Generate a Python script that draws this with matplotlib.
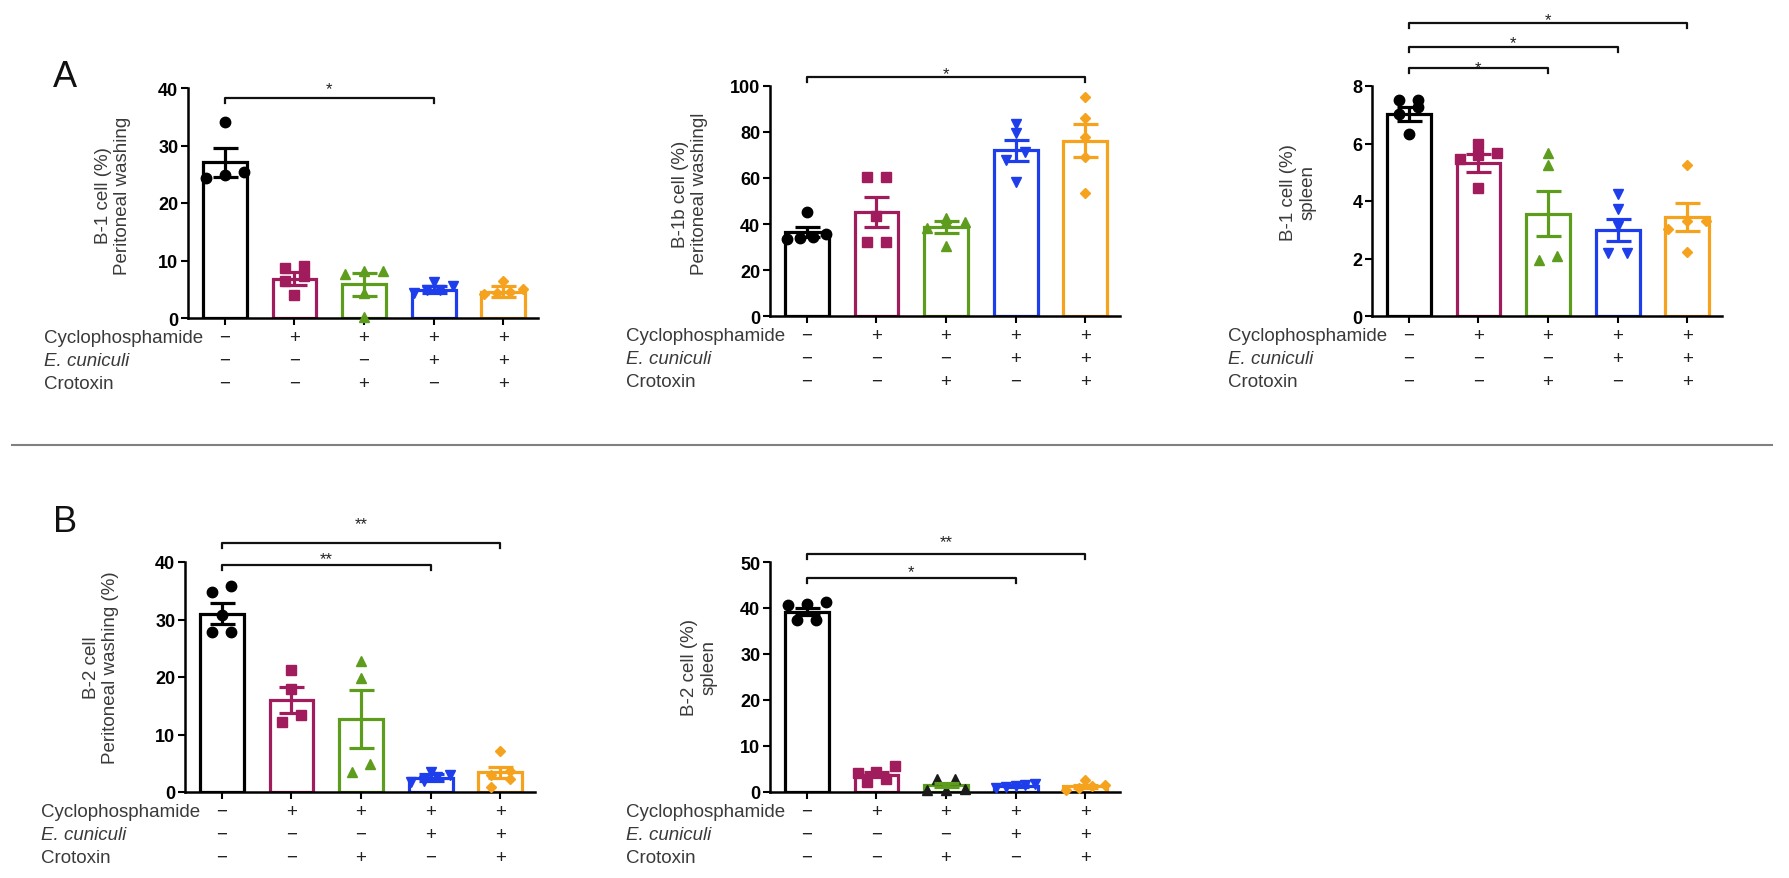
import matplotlib
matplotlib.use('Agg')
import matplotlib.pyplot as plt
import matplotlib.transforms as mtransforms
from matplotlib.lines import Line2D
import numpy as np

plt.rcParams['font.family'] = ['Liberation Sans', 'DejaVu Sans']

# ---------------- data ----------------
cyclo_row = ['\u2212', '+', '+', '+', '+']
ecun_row = ['\u2212', '\u2212', '\u2212', '+', '+']
crot_row = ['\u2212', '\u2212', '+', '\u2212', '+']
row_names = ['Cyclophosphamide', 'E. cuniculi', 'Crotoxin']

a1_mean = [27.1, 6.85, 5.9, 4.9, 4.6]
a1_sem = [2.5, 1.15, 2.0, 0.6, 0.9]
a1_points = [[34.1, 24.4, 25.4, 24.9],
             [8.7, 9.0, 7.3, 6.5, 4.0],
             [8.2, 8.2, 7.6, 4.3, 0.2],
             [6.2, 5.5, 4.9, 4.8, 4.3],
             [6.5, 5.0, 4.6, 4.3, 4.2]]

a2_mean = [36.5, 45.2, 38.6, 72.0, 76.3]
a2_sem = [2.2, 6.7, 2.7, 4.6, 7.3]
a2_points = [[45.2, 35.5, 34.5, 34.0, 33.5],
             [60.6, 60.6, 43.5, 32.2, 32.2],
             [42.8, 41.0, 40.9, 38.4, 30.4],
             [83.6, 79.5, 71.5, 68.0, 58.3],
             [95.2, 86.0, 78.0, 69.0, 53.3]]

a3_mean = [7.03, 5.33, 3.56, 2.99, 3.44]
a3_sem = [0.23, 0.31, 0.79, 0.39, 0.49]
a3_points = [[7.5, 7.5, 7.27, 7.03, 6.34],
             [6.0, 5.66, 5.6, 5.47, 4.44],
             [5.68, 5.25, 2.1, 1.95],
             [4.23, 3.71, 3.13, 2.18, 2.18],
             [5.25, 3.3, 3.3, 3.01, 2.23]]

b1_mean = [31.0, 16.0, 12.7, 2.5, 3.4]
b1_sem = [1.8, 2.2, 5.0, 0.6, 1.0]
b1_points = [[35.8, 34.8, 30.8, 27.8, 27.8],
             [21.2, 17.9, 13.4, 12.2],
             [22.8, 19.8, 4.9, 3.5],
             [3.5, 3.0, 2.6, 2.0, 1.8],
             [7.2, 3.7, 2.9, 2.3, 0.8]]

b2_mean = [39.2, 3.8, 1.5, 1.3, 1.2]
b2_sem = [0.8, 0.6, 0.5, 0.3, 0.35]
b2_points = [[40.9, 41.4, 40.6, 37.3, 37.3],
             [5.7, 4.3, 4.1, 2.9, 2.1],
             [2.9, 2.9, 0.6, 0.4, 0.4],
             [1.8, 1.5, 1.3, 1.0, 0.9],
             [2.6, 1.5, 1.2, 0.8, 0.5]]

# ---------------- style ----------------
colors = ['#000000', '#A01C5C', '#5E9C1E', '#1E3EEB', '#F5A31F']
markers = ['o', 's', '^', 'v', 'D']
msizes = [7.5, 7, 7.5, 7.5, 5]
W, H = 1790, 879
TXT = '#3a3a3a'

fig = plt.figure(figsize=(W / 100, H / 100), dpi=100)


def make_ax(left, bottom, top, width=350):
    return fig.add_axes([left / W, 1 - bottom / H, width / W, (bottom - top) / H])


def swarm_offsets(vals, ymax, axh=230.0, tol=9.0, spacing=0.27, maxspan=0.56):
    vals = np.asarray(vals, dtype=float)
    order = np.argsort(vals)
    offs = np.zeros(len(vals))
    pxu = axh / ymax
    groups = []
    cur = [order[0]]
    for i in order[1:]:
        if (vals[i] - vals[cur[0]]) * pxu < tol:
            cur.append(i)
        else:
            groups.append(cur)
            cur = [i]
    groups.append(cur)
    for g in groups:
        n = len(g)
        if n == 1:
            continue
        sp = min(spacing, maxspan / (n - 1))
        for k, idx in enumerate(g):
            offs[idx] = (k - (n - 1) / 2) * sp
    return offs


def panel(ax, means, sems, points, ymax, ystep, ylabel, lab_x, lab_y, mcolors=None):
    x = np.arange(5)
    ax.set_xlim(-0.53, 4.5)
    ax.set_ylim(0, ymax)
    for s in ['top', 'right']:
        ax.spines[s].set_visible(False)
    for s in ['left', 'bottom']:
        ax.spines[s].set_linewidth(1.8)
    ax.bar(x, means, width=0.63, facecolor='white', edgecolor=colors,
           linewidth=2.3, zorder=2)
    for i in range(5):
        mc = colors[i] if mcolors is None else mcolors[i]
        offs = swarm_offsets(points[i], ymax)
        ax.plot(i + offs, points[i], linestyle='none', marker=markers[i],
                ms=msizes[i], color=mc, mec=mc, zorder=3, clip_on=False)
        ax.errorbar(i, means[i], yerr=sems[i], fmt='none', ecolor=colors[i],
                    elinewidth=2.3, capsize=9, capthick=2.3, zorder=4)
    ax.set_yticks(np.arange(0, ymax + ystep / 2, ystep))
    ax.tick_params(axis='y', length=5, width=1.5, pad=2, labelsize=13)
    for t in ax.get_yticklabels():
        t.set_fontweight('bold')
    ax.set_xticks(x)
    ax.set_xticklabels([])
    ax.tick_params(axis='x', length=5, width=1.5, direction='out')
    ax.text(lab_x, lab_y, ylabel, rotation=90, ha='center', va='center',
            transform=ax.transAxes, fontsize=13.5, color=TXT, linespacing=1.2,
            multialignment='center')
    trans = mtransforms.blended_transform_factory(ax.transData, ax.transAxes)
    rows = [cyclo_row, ecun_row, crot_row]
    ys = [-0.083, -0.183, -0.283]
    for r, yy, nm in zip(rows, ys, row_names):
        ax.text(-0.411, yy, nm, transform=ax.transAxes, ha='left', va='center',
                fontsize=13.5, color=TXT, style='italic' if nm.startswith('E.') else 'normal')
        for i in range(5):
            ax.text(i, yy, r[i], transform=trans, ha='center', va='center',
                    fontsize=13.5, color='#222222')


def bracket(ax, x1, x2, y, star_y, text, ymax):
    drop = 5.0 * ymax / 230.0
    ax.plot([x1, x1, x2, x2], [y - drop, y, y, y - drop], color='#111111',
            lw=1.6, clip_on=False, zorder=5)
    ax.annotate(text, xy=((x1 + x2) / 2, star_y), xytext=(0, -6.9),
                textcoords='offset points', ha='center', va='baseline',
                fontsize=12, color='#222222', annotation_clip=False)


# Panel A1
axA1 = make_ax(188, 319, 89)
panel(axA1, a1_mean, a1_sem, a1_points, 40, 10,
      'B-1 cell (%)\nPeritoneal washing', -0.214, 0.537)
bracket(axA1, 0, 3, 38.26, 40.7, '*', 40)

# Panel A2
axA2 = make_ax(770, 317, 87)
panel(axA2, a2_mean, a2_sem, a2_points, 100, 20,
      'B-1b cell (%)\nPeritoneal washingl', -0.229, 0.535)
bracket(axA2, 0, 4, 103.9, 107.4, '*', 100)

# Panel A3
axA3 = make_ax(1372, 317, 87)
panel(axA3, a3_mean, a3_sem, a3_points, 8, 2,
      'B-1 cell (%)\nspleen', -0.211, 0.543)
bracket(axA3, 0, 2, 8.63, 8.83, '*', 8)
bracket(axA3, 0, 3, 9.36, 9.70, '*', 8)
bracket(axA3, 0, 4, 10.19, 10.5, '*', 8)

# Panel B1
axB1 = make_ax(185, 793, 563)
panel(axB1, b1_mean, b1_sem, b1_points, 40, 10,
      'B-2 cell\nPeritoneal washing (%)', -0.24, 0.543)
bracket(axB1, 0, 3, 39.48, 41.39, '**', 40)
bracket(axB1, 0, 4, 43.3, 47.48, '**', 40)

# Panel B2
axB2 = make_ax(770, 793, 563)
b2_mcolors = [colors[0], colors[1], '#1a1a1a', colors[3], colors[4]]
panel(axB2, b2_mean, b2_sem, b2_points, 50, 10,
      'B-2 cell (%)\nspleen', -0.203, 0.545, mcolors=b2_mcolors)
bracket(axB2, 0, 3, 46.52, 48.91, '*', 50)
bracket(axB2, 0, 4, 51.74, 55.43, '**', 50)

# panel letters
fig.text(53 / W, 1 - 87 / H, 'A', fontsize=26, ha='left', va='baseline', color='#111111')
fig.text(53 / W, 1 - 532 / H, 'B', fontsize=26, ha='left', va='baseline', color='#111111')

# separator line
fig.add_artist(Line2D([12 / W, 1772 / W], [1 - 446 / H, 1 - 446 / H],
                      color='#808080', lw=1.5))

fig.savefig('out.png', dpi=100)
